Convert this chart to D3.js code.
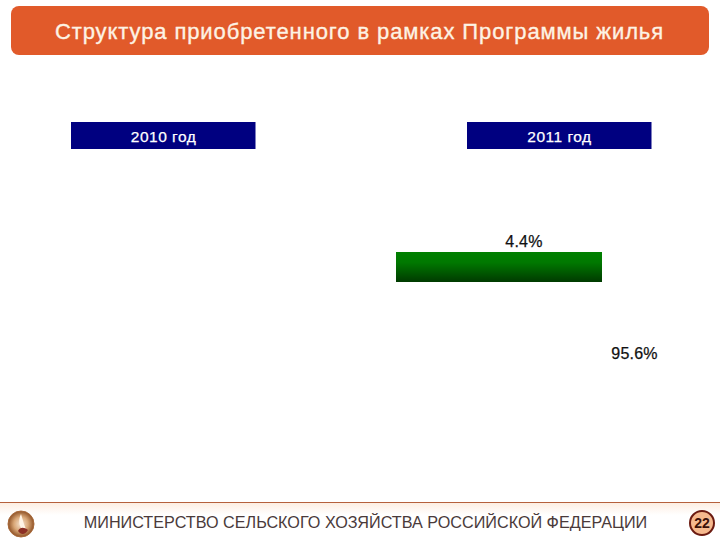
<!DOCTYPE html>
<html>
<head>
<meta charset="utf-8">
<script src="https://cdn.jsdelivr.net/npm/d3@7"></script>
<style>
  html, body { margin: 0; padding: 0; background: #fff; }
  svg { display: block; }
  text { font-family: "Liberation Sans", Arial, sans-serif; }
</style>
</head>
<body>
<div id="chart"></div>
<script>
// Step 1: Chart data
// =================================
var titleText  = "Структура приобретенного в рамках Программы жилья";
var footerText = "МИНИСТЕРСТВО СЕЛЬСКОГО ХОЗЯЙСТВА РОССИЙСКОЙ ФЕДЕРАЦИИ";
var pageNumber = "22";
var years      = ["2010 год", "2011 год"];
var shares     = [4.4, 95.6];
var shareText  = ["4.4%", "95.6%"];

// Step 2: Set up the svg
// =================================
var svgWidth  = 720;
var svgHeight = 540;

var svg = d3.select("#chart")
  .append("svg")
  .attr("width", svgWidth)
  .attr("height", svgHeight);

var defs = svg.append("defs");

function addGradient(id, stops, tag) {
  var grad = defs.append(tag || "linearGradient").attr("id", id);
  if (!tag) {
    grad.attr("x1", 0).attr("y1", 0).attr("x2", 0).attr("y2", 1);
  }
  stops.forEach(function(s) {
    grad.append("stop").attr("offset", s[0]).attr("stop-color", s[1]);
  });
}

addGradient("barFill", [[0, "#008000"], [0.35, "#007800"], [1, "#003a00"]]);
addGradient("footFill", [[0, "#fdeee2"], [1, "#ffffff"]]);
addGradient("logoFill", [[0, "#f6e4d2"], [0.55, "#d9a777"], [1, "#8f5226"]], "radialGradient");

// Step 3: Header
// =================================
svg.append("rect")
  .attr("x", 11).attr("y", 6)
  .attr("width", 698).attr("height", 49)
  .attr("rx", 8)
  .attr("fill", "#e15a2a");

svg.append("text")
  .attr("x", 359.5).attr("y", 38.5)
  .attr("text-anchor", "middle")
  .attr("font-size", 22)
  .attr("letter-spacing", 0.9)
  .attr("fill", "#fdf3e4")
  .attr("stroke", "#fdf3e4")
  .attr("stroke-width", 0.35)
  .text(titleText);

// Step 4: Year headers, one for each panel
// =================================
var yearX = d3.scaleOrdinal().domain(years).range([71, 467]);

var yearGroup = svg.append("g").selectAll("g")
  .data(years)
  .enter().append("g")
  .attr("transform", d => `translate(${yearX(d)}, 122)`);

yearGroup.append("rect")
  .attr("width", 184.5)
  .attr("height", 27)
  .attr("fill", "#000080");

yearGroup.append("text")
  .attr("x", 92.5).attr("y", 19.5)
  .attr("text-anchor", "middle")
  .attr("font-size", 15.5)
  .attr("letter-spacing", 0.5)
  .attr("fill", "#ffffff")
  .attr("stroke", "#ffffff")
  .attr("stroke-width", 0.25)
  .text(d => d);

// Step 5: 2011 panel - only the small share shows as a filled band
// =================================
var xScale = d3.scaleLinear().domain([0, shares[0]]).range([396, 602]);

svg.append("rect")
  .attr("x", xScale(0))
  .attr("y", 252)
  .attr("width", xScale(shares[0]) - xScale(0))
  .attr("height", 30)
  .attr("fill", "url(#barFill)");

var labelX = d3.scaleOrdinal().domain(shareText).range([524, 634.5]);
var labelY = d3.scaleOrdinal().domain(shareText).range([246.5, 358.5]);

svg.append("g").selectAll("text")
  .data(shareText)
  .enter().append("text")
  .attr("x", d => labelX(d))
  .attr("y", d => labelY(d))
  .attr("text-anchor", "middle")
  .attr("font-size", 16)
  .attr("letter-spacing", 0.2)
  .attr("fill", "#111111")
  .attr("stroke", "#111111")
  .attr("stroke-width", 0.25)
  .text(d => d);

// Step 6: Footer
// =================================
svg.append("rect")
  .attr("x", 0).attr("y", 503)
  .attr("width", svgWidth).attr("height", 12)
  .attr("fill", "url(#footFill)");

svg.append("line")
  .attr("x1", 0).attr("x2", svgWidth)
  .attr("y1", 502.5).attr("y2", 502.5)
  .attr("stroke", "#b5603c")
  .attr("stroke-width", 1);

svg.append("text")
  .attr("x", 365.5).attr("y", 528)
  .attr("text-anchor", "middle")
  .attr("font-size", 16.2)
  .attr("fill", "#4a3a3a")
  .text(footerText);

// small round emblem on the left
svg.append("circle")
  .attr("cx", 21).attr("cy", 524).attr("r", 13)
  .attr("fill", "url(#logoFill)")
  .attr("stroke", "#a8693a");

svg.append("path")
  .attr("d", "M21 514 C18 520 19 526 23 531 L27 531 C24 526 23 520 21 514 Z")
  .attr("fill", "#fff4e6");

svg.append("path")
  .attr("d", "M18 531 C20 527 24 527 28 530 C25 535 21 535 18 531 Z")
  .attr("fill", "#8c2f24");

// page number badge
svg.append("circle")
  .attr("cx", 702).attr("cy", 523).attr("r", 12)
  .attr("fill", "#f6b98e")
  .attr("stroke", "#6b1a10")
  .attr("stroke-width", 2);

svg.append("text")
  .attr("x", 702).attr("y", 528)
  .attr("text-anchor", "middle")
  .attr("font-size", 14)
  .attr("font-weight", "bold")
  .attr("fill", "#3a1008")
  .text(pageNumber);
</script>
</body>
</html>
